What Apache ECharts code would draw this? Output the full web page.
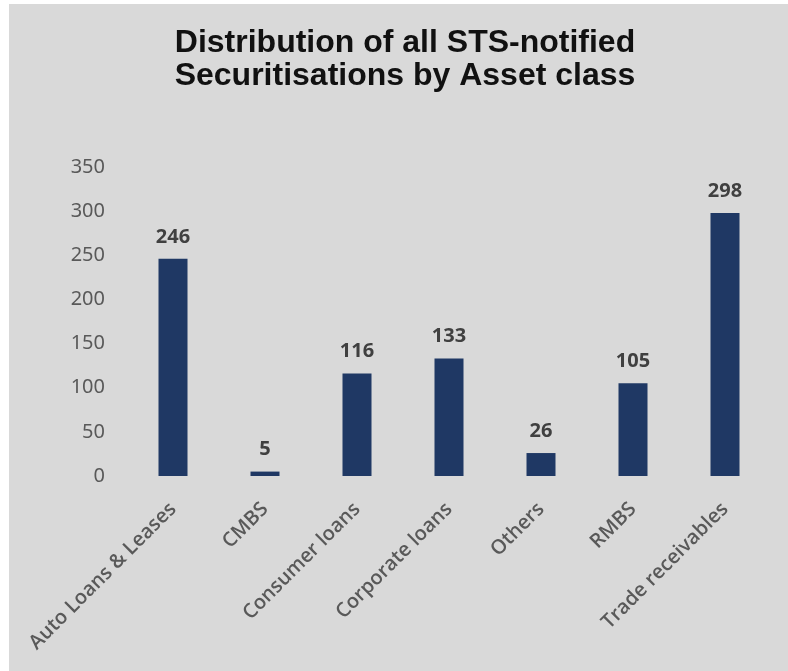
<!DOCTYPE html>
<html>
<head>
<meta charset="utf-8">
<script src="https://cdn.jsdelivr.net/npm/echarts@6/dist/echarts.min.js"></script>
<style>
  html, body { margin: 0; padding: 0; background: #fff; }
  #chart { position: absolute; left: 9px; top: 4px; width: 779px; height: 667px; }
</style>
</head>
<body>
<div id="chart"></div>
<script>
const categories = ['Auto Loans & Leases', 'CMBS', 'Consumer loans', 'Corporate loans', 'Others', 'RMBS', 'Trade receivables']
const counts = [246, 5, 116, 133, 26, 105, 298]
const yTicks = [0, 350, 50] // min, max, step

const chart = echarts.init(document.getElementById('chart'))
chart.setOption({
  backgroundColor: '#d9d9d9',
  animation: false,
  title: {
    text: 'Distribution of all STS-notified\nSecuritisations by Asset class',
    left: 391,
    textAlign: 'center',
    top: 18,
    textStyle: {
      fontFamily: 'Liberation Sans',
      fontWeight: 'bold',
      fontSize: 32,
      lineHeight: 33,
      color: '#111'
    }
  },
  grid: {
    left: 118,
    right: 17,
    top: 163,
    bottom: 195
  },
  xAxis: {
    type: 'category',
    data: categories,
    axisLine: { show: false },
    axisTick: { show: false },
    axisLabel: {
      rotate: 45,
      interval: 0,
      margin: 30,
      color: '#595959',
      fontFamily: 'Open Sans',
      fontWeight: 600,
      fontSize: 20
    }
  },
  yAxis: {
    type: 'value',
    min: yTicks[0],
    max: yTicks[1],
    interval: yTicks[2],
    splitLine: { show: false },
    axisLine: { show: false },
    axisTick: { show: false },
    axisLabel: {
      margin: 22,
      color: '#595959',
      fontFamily: 'Noto Sans',
      fontSize: 20
    }
  },
  series: [
    {
      type: 'bar',
      data: counts,
      barWidth: 29,
      itemStyle: { color: '#1f3864' },
      label: {
        show: true,
        position: 'top',
        distance: 12,
        color: '#404040',
        fontFamily: 'Open Sans',
        fontWeight: 'bold',
        fontSize: 20
      }
    }
  ]
})
</script>
</body>
</html>
